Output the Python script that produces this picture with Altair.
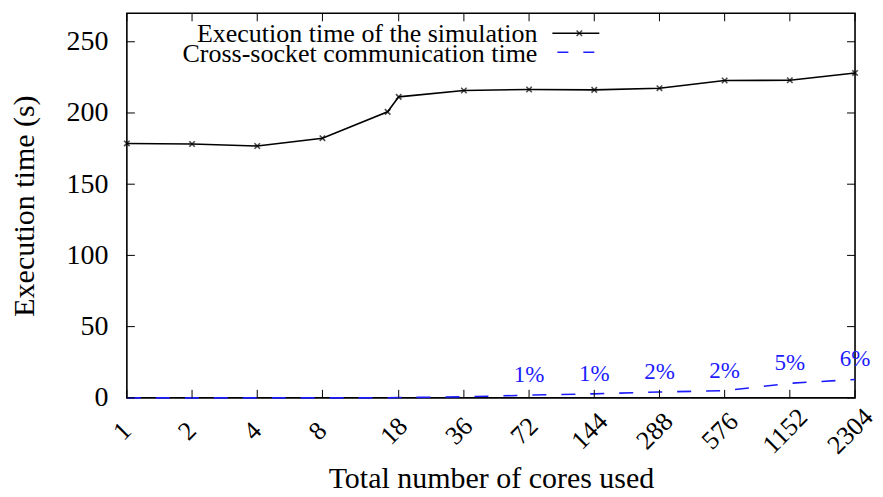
import altair as alt
import pandas as pd

# ---- data ----
cores = [1, 2, 4, 8, 16, 18, 36, 72, 144, 288, 576, 1152, 2304]
exec_time = [178.6, 178.2, 176.8, 182.3, 200.8, 211.3, 215.8, 216.5, 216.2, 217.4, 222.8, 223.0, 228.1]
comm_time = [0.0, 0.0, 0.0, 0.0, 0.0, 0.2, 0.7, 1.9, 2.8, 4.1, 5.0, 10.2, 12.9]
label_cores = [72, 144, 288, 576, 1152, 2304]
pct_labels = ["1%", "1%", "2%", "2%", "5%", "6%"]
x_ticks = [1, 2, 4, 8, 18, 36, 72, 144, 288, 576, 1152, 2304]
y_ticks = [0, 50, 100, 150, 200, 250]
legend_labels = ["Execution time of the simulation", "Cross-socket communication time"]

FONT = "Liberation Serif"
BLUE = "#1c1cff"
W, H = 729, 385

df = pd.DataFrame({"cores": cores, "exec": exec_time, "comm": comm_time})
lab = pd.DataFrame({
    "cores": label_cores,
    "exec": [comm_time[cores.index(c)] for c in label_cores],
    "pct": pct_labels,
})
xt = pd.DataFrame({"cores": x_ticks})
yt = pd.DataFrame({"exec": y_ticks})
leg1 = pd.DataFrame({"t": [legend_labels[0]]})
leg2 = pd.DataFrame({"t": [legend_labels[1]]})

xscale = alt.Scale(type="log", base=2, domain=[1, 2304], nice=False)
yscale = alt.Scale(domain=[0, 270], nice=False)

x_axis = alt.Axis(
    values=x_ticks, format="d", labelAngle=-45, labelAlign="center", labelBaseline="middle",
    labelPadding=33, labelOffset=-5, ticks=False, domain=False, grid=False,
    labelFont=FONT, labelFontSize=26, labelColor="black", labelOverlap=False,
    labelFlush=False,
    title="Total number of cores used", titleFont=FONT, titleFontSize=30,
    titleFontWeight="normal", titleColor="black", titleBaseline="alphabetic",
    titleY=90, titleX=W / 2, titleAlign="center",
)
y_axis = alt.Axis(
    values=y_ticks, ticks=False, domain=False, grid=False, labelPadding=19,
    labelFont=FONT, labelFontSize=28, labelColor="black",
    title="Execution time (s)", titleFont=FONT, titleFontSize=30,
    titleFontWeight="normal", titleColor="black", titleAngle=270,
    titleBaseline="alphabetic", titleAlign="center", titleX=-93, titleY=H / 2,
)

XSHAPE = "M-1,-1L1,1M-1,1L1,-1"

X = alt.X("cores:Q", scale=xscale)
Y = alt.Y("exec:Q", scale=yscale)

base = alt.Chart(df)

exec_line = base.mark_line(color="black", strokeWidth=1.6).encode(
    x=alt.X("cores:Q", scale=xscale, axis=x_axis),
    y=alt.Y("exec:Q", scale=yscale, axis=y_axis),
)
exec_pts = base.mark_point(shape=XSHAPE, size=30, color="black", strokeWidth=1.6, filled=False).encode(
    x=X, y=Y,
)
comm_line = base.mark_line(color=BLUE, strokeWidth=1.6, strokeDash=[14, 15]).encode(
    x=X, y=alt.Y("comm:Q", scale=yscale),
)
pct_text = alt.Chart(lab).mark_text(
    color=BLUE, font=FONT, fontSize=23, align="center", baseline="alphabetic", dy=-13
).encode(
    x=X, y=Y, text="pct:N",
)

# inward ticks on all four sides
xt_bottom = alt.Chart(xt).mark_rule(color="black", strokeWidth=1).encode(
    x=X, y=alt.value(H), y2=alt.value(H - 8))
xt_top = alt.Chart(xt).mark_rule(color="black", strokeWidth=1).encode(
    x=X, y=alt.value(0), y2=alt.value(8))
yt_left = alt.Chart(yt).mark_rule(color="black", strokeWidth=1).encode(
    y=Y, x=alt.value(0), x2=alt.value(8))
yt_right = alt.Chart(yt).mark_rule(color="black", strokeWidth=1).encode(
    y=Y, x=alt.value(W), x2=alt.value(W - 8))

# legend (gnuplot style: text then sample on the right)
leg_t1 = alt.Chart(leg1).mark_text(font=FONT, fontSize=26, align="right", baseline="alphabetic", color="black").encode(
    x=alt.value(411), y=alt.value(29), text="t:N")
leg_t2 = alt.Chart(leg2).mark_text(font=FONT, fontSize=26, align="right", baseline="alphabetic", color="black").encode(
    x=alt.value(411), y=alt.value(49), text="t:N")
leg_l1 = alt.Chart(leg1).mark_rule(color="black", strokeWidth=1.6).encode(
    x=alt.value(426), x2=alt.value(473), y=alt.value(20))
leg_p1 = alt.Chart(leg1).mark_point(shape=XSHAPE, size=30, color="black", strokeWidth=1.6, filled=False).encode(
    x=alt.value(453), y=alt.value(20))
leg_l2 = alt.Chart(leg2).mark_rule(color=BLUE, strokeWidth=1.6, strokeDash=[11, 15]).encode(
    x=alt.value(431), x2=alt.value(470), y=alt.value(39))

chart = alt.layer(
    exec_line, comm_line, exec_pts, pct_text,
    xt_bottom, xt_top, yt_left, yt_right,
    leg_t1, leg_t2, leg_l1, leg_p1, leg_l2,
).properties(
    width=W, height=H,
    autosize=alt.AutoSizeParams(type="none"),
    padding={"left": 119, "top": 5, "right": 20, "bottom": 95},
    background="white",
).configure_view(
    stroke="black", strokeWidth=1.6
)

chart.save("out.html", embed_options={"renderer": "svg", "actions": False})
